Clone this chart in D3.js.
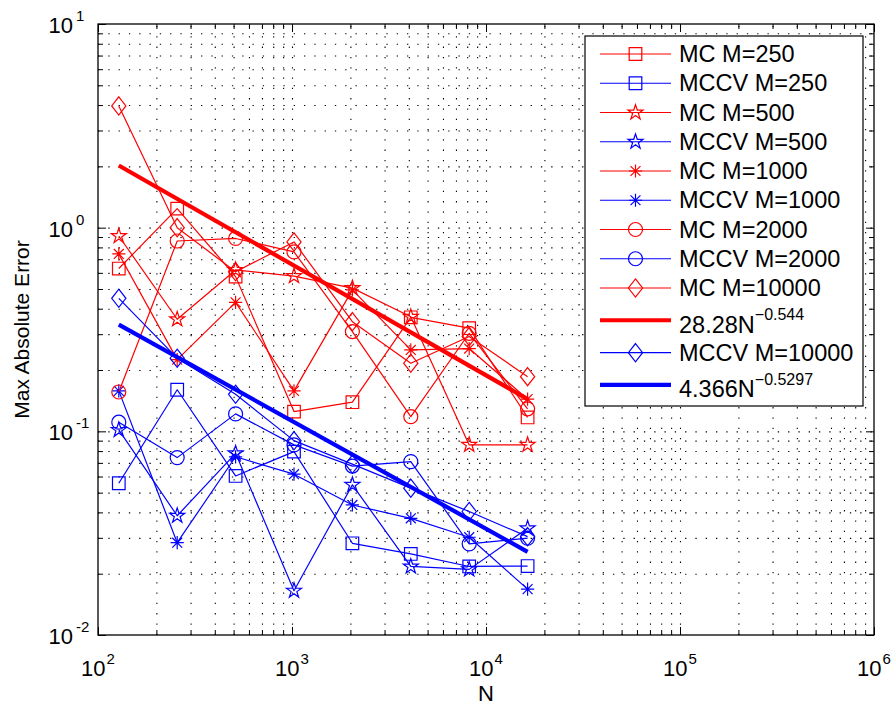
<!DOCTYPE html>
<html>
<head>
<meta charset="utf-8">
<script src="https://cdn.jsdelivr.net/npm/d3@7/dist/d3.min.js"></script>
<style>
  html, body { margin: 0; padding: 0; background: #fff; }
  svg { display: block; font-family: "Liberation Sans", Arial, Helvetica, sans-serif; }
</style>
</head>
<body>
<svg id="chart" width="894" height="706"></svg>
<script>
// ---------------- DATA ----------------
const N = [128, 256, 512, 1024, 2048, 4096, 8192, 16384];
const mc250     = [0.63, 1.24, 0.575, 0.125, 0.139, 0.363, 0.321, 0.117];
const mccv250   = [0.0556, 0.16, 0.0604, 0.0795, 0.0282, 0.025, 0.0217, 0.0218];
const mc500     = [0.91, 0.355, 0.62, 0.578, 0.505, 0.365, 0.0858, 0.0858];
const mccv500   = [0.1016, 0.0385, 0.078, 0.0165, 0.0546, 0.0217, 0.021, 0.0334];
const mc1000    = [0.743, 0.225, 0.43, 0.158, 0.495, 0.251, 0.255, 0.144];
const mccv1000  = [0.158, 0.0284, 0.075, 0.0616, 0.0435, 0.0374, 0.0302, 0.0168];
const mc2000    = [0.156, 0.86, 0.885, 0.76, 0.309, 0.118, 0.303, 0.129];
const mccv2000  = [0.1109, 0.0743, 0.1218, 0.0858, 0.0675, 0.071, 0.028, 0.0299];
const mc10000   = [3.96, 1.0, 0.608, 0.851, 0.3455, 0.216, 0.292, 0.1856];
const mccv10000 = [0.45, 0.2286, 0.152, 0.09, 0.069, 0.0526, 0.0404, 0.0304];
const fitN      = [128, 16384];
const fitMC     = [2.02, 0.144];
const fitMCCV   = [0.334, 0.0256];

const xTickExps = [2, 3, 4, 5, 6];
const yTickExps = [-2, -1, 0, 1];
const xLabel = "N";
const yLabel = "Max Absolute Error";

const RED = "#ff0000", BLUE = "#0000ff";
const series = [
  { label: "MC M=250",     color: RED,  sym: "square",  xs: N, ys: mc250 },
  { label: "MCCV M=250",   color: BLUE, sym: "square",  xs: N, ys: mccv250 },
  { label: "MC M=500",     color: RED,  sym: "star",    xs: N, ys: mc500 },
  { label: "MCCV M=500",   color: BLUE, sym: "star",    xs: N, ys: mccv500 },
  { label: "MC M=1000",    color: RED,  sym: "asterisk",xs: N, ys: mc1000 },
  { label: "MCCV M=1000",  color: BLUE, sym: "asterisk",xs: N, ys: mccv1000 },
  { label: "MC M=2000",    color: RED,  sym: "circle",  xs: N, ys: mc2000 },
  { label: "MCCV M=2000",  color: BLUE, sym: "circle",  xs: N, ys: mccv2000 },
  { label: "MC M=10000",   color: RED,  sym: "diamond", xs: N, ys: mc10000 },
  { label: "28.28N", sup: "\u22120.544", color: RED, sym: null, fit: true, xs: fitN, ys: fitMC },
  { label: "MCCV M=10000", color: BLUE, sym: "diamond", xs: N, ys: mccv10000 },
  { label: "4.366N", sup: "\u22120.5297", color: BLUE, sym: null, fit: true, xs: fitN, ys: fitMCCV }
];

// ---------------- LAYOUT ----------------
const L = 98, R = 874, T = 24, B = 635;
const svg = d3.select("#chart");
const x = d3.scaleLog().domain([1e2, 1e6]).range([L, R]);
const y = d3.scaleLog().domain([1e-2, 1e1]).range([B, T]);

function minorVals(e0, e1) {
  const out = [];
  for (let e = e0; e < e1; e++) for (let m = 1; m <= 9; m++) out.push(m * Math.pow(10, e));
  out.push(Math.pow(10, e1));
  return out;
}
const xAll = minorVals(2, 6);
const yAll = minorVals(-2, 1);
const xMajor = xTickExps.map(e => Math.pow(10, e));
const yMajor = yTickExps.map(e => Math.pow(10, e));
const isMajor = v => Math.abs(Math.log10(v) - Math.round(Math.log10(v))) < 1e-9;

svg.append("rect").attr("x", 0).attr("y", 0).attr("width", 894).attr("height", 706).attr("fill", "#fff");

// grid
const grid = svg.append("g").attr("class", "grid");
grid.append("g").attr("transform", `translate(0,${B})`)
  .call(d3.axisBottom(x).tickValues(xAll.filter(v => x(v) > L + 0.5 && x(v) < R - 0.5)).tickSize(-(B - T)).tickFormat(""))
  .call(g => g.select(".domain").remove())
  .call(g => g.selectAll("line").attr("stroke", "#000").attr("stroke-width", 1.1).attr("stroke-dasharray", "1.3,9"));
grid.append("g").attr("transform", `translate(${L},0)`)
  .call(d3.axisLeft(y).tickValues(yAll.filter(v => y(v) < B - 0.5 && y(v) > T + 0.5)).tickSize(-(R - L)).tickFormat(""))
  .call(g => g.select(".domain").remove())
  .call(g => g.selectAll("line").attr("stroke", "#000").attr("stroke-width", 1.1).attr("stroke-dasharray", "1.3,9"));

// symbols
function symbolPath(type) {
  switch (type) {
    case "square": { const h = 6.3; return `M${-h},${-h}H${h}V${h}H${-h}Z`; }
    case "circle": { const r = 7; return `M${r},0A${r},${r} 0 1,1 ${-r},0A${r},${r} 0 1,1 ${r},0Z`; }
    case "diamond": { const w = 7.1, h = 9.1; return `M0,${-h}L${w},0L0,${h}L${-w},0Z`; }
    case "star": {
      const Ro = 7.9, Ri = Ro * 0.382; let p = "";
      for (let i = 0; i < 10; i++) {
        const rr = i % 2 === 0 ? Ro : Ri;
        const a = -Math.PI / 2 + i * Math.PI / 5;
        p += (i === 0 ? "M" : "L") + (rr * Math.cos(a)).toFixed(2) + "," + (rr * Math.sin(a)).toFixed(2);
      }
      return p + "Z";
    }
    case "asterisk": {
      const r = 6.6, d = r * 0.75;
      return `M0,${-r}V${r}M${-r},0H${r}M${-d},${-d}L${d},${d}M${-d},${d}L${d},${-d}`;
    }
  }
  return "";
}

// series
const line = d3.line().x(d => x(d[0])).y(d => y(d[1]));
const plot = svg.append("g");
series.forEach(s => {
  const pts = s.xs.map((n, i) => [n, s.ys[i]]);
  plot.append("path").attr("d", line(pts)).attr("fill", "none")
    .attr("stroke", s.color).attr("stroke-width", s.fit ? 4.2 : 1.2).attr("stroke-linejoin", "round");
  if (s.sym) {
    plot.selectAll(null).data(pts).enter().append("path")
      .attr("transform", d => `translate(${x(d[0])},${y(d[1])})`)
      .attr("d", symbolPath(s.sym)).attr("fill", "none")
      .attr("stroke", s.color).attr("stroke-width", 1.2);
  }
});

// axes (ticks inside, box)
function tickAxis(axisFn, scale, vals, major, transform) {
  const g = svg.append("g").attr("transform", transform)
    .call(axisFn(scale).tickValues(vals).tickSize(major ? -8 : -5).tickFormat(""));
  g.select(".domain").remove();
  g.selectAll("line").attr("stroke", "#000").attr("stroke-width", 1);
}
const xMin = xAll.filter(v => !isMajor(v));
const yMin = yAll.filter(v => !isMajor(v));
tickAxis(d3.axisBottom, x, xMajor, true, `translate(0,${B})`);
tickAxis(d3.axisBottom, x, xMin, false, `translate(0,${B})`);
tickAxis(d3.axisTop, x, xMajor, true, `translate(0,${T})`);
tickAxis(d3.axisTop, x, xMin, false, `translate(0,${T})`);
tickAxis(d3.axisLeft, y, yMajor, true, `translate(${L},0)`);
tickAxis(d3.axisLeft, y, yMin, false, `translate(${L},0)`);
tickAxis(d3.axisRight, y, yMajor, true, `translate(${R},0)`);
tickAxis(d3.axisRight, y, yMin, false, `translate(${R},0)`);

svg.append("rect").attr("x", L).attr("y", T).attr("width", R - L).attr("height", B - T)
  .attr("fill", "none").attr("stroke", "#000").attr("stroke-width", 1.3);

// tick labels
const xl = svg.append("g").attr("font-size", 22).attr("fill", "#000");
xTickExps.forEach(e => {
  const t = xl.append("text").attr("x", x(Math.pow(10, e))).attr("y", 676).attr("text-anchor", "middle");
  t.append("tspan").text("10");
  t.append("tspan").attr("dy", -12).attr("dx", 1).attr("font-size", 15).text(String(e));
});
const yl = svg.append("g").attr("font-size", 22).attr("fill", "#000");
yTickExps.forEach(e => {
  const yy = y(Math.pow(10, e));
  yl.append("text").attr("x", 73).attr("y", yy + 9).attr("text-anchor", "end").text("10");
  yl.append("text").attr("x", 76).attr("y", yy - 3).attr("font-size", 15).text(String(e));
});

// axis labels
svg.append("text").attr("x", (L + R) / 2).attr("y", 701).attr("text-anchor", "middle")
  .attr("font-size", 22).text(xLabel);
svg.append("text").attr("transform", `translate(29,${(T + B) / 2}) rotate(-90)`).attr("text-anchor", "middle")
  .attr("font-size", 21).text(yLabel);

// legend
const lg = svg.append("g");
lg.append("rect").attr("x", 585).attr("y", 36).attr("width", 278).attr("height", 370)
  .attr("fill", "#fff").attr("stroke", "#000").attr("stroke-width", 1.2);
let cy = 54;
series.forEach((s, i) => {
  if (i > 0) cy += 29.25;
  if (s.sup) cy += 3;
  lg.append("line").attr("x1", 600).attr("x2", 671).attr("y1", cy).attr("y2", cy)
    .attr("stroke", s.color).attr("stroke-width", s.fit ? 4.2 : 1.2);
  if (s.sym) {
    lg.append("path").attr("transform", `translate(635.5,${cy})`).attr("d", symbolPath(s.sym))
      .attr("fill", "none").attr("stroke", s.color).attr("stroke-width", 1.2);
  }
  if (s.sup) {
    const t = lg.append("text").attr("x", 679).attr("y", cy + 12.5).attr("font-size", 23.5);
    t.append("tspan").text(s.label);
    t.append("tspan").attr("dy", -12.5).attr("font-size", 16).text(s.sup);
    cy += 3.2;
  } else {
    lg.append("text").attr("x", 679).attr("y", cy + 8).attr("font-size", 23.5).text(s.label);
  }
});
</script>
</body>
</html>
